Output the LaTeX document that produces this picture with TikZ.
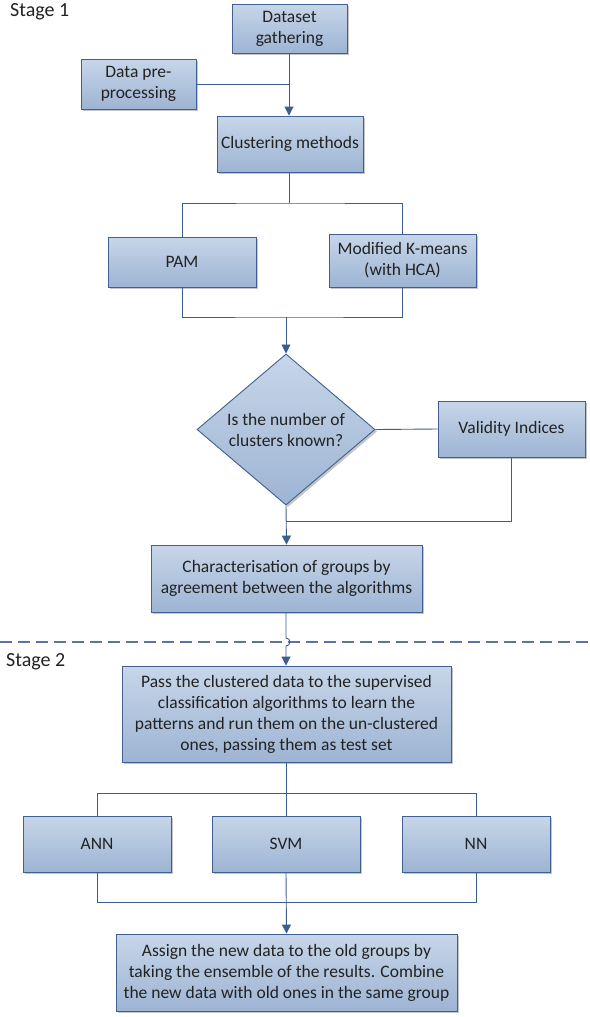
\documentclass[tikz,border=0pt]{standalone}
\usepackage{fontspec}
\setmainfont{Carlito}
\usetikzlibrary{shapes.geometric,arrows.meta,shadows}
\definecolor{boxtop}{HTML}{C7D6E9}
\definecolor{boxbot}{HTML}{9DB4D3}
\definecolor{boxline}{HTML}{3F6090}
\definecolor{conn}{HTML}{3C5E8E}
\definecolor{txt}{HTML}{222222}
\tikzset{
  box/.style={draw=boxline, line width=0.9pt, top color=boxtop, bottom color=boxbot,
    text=txt, align=center, inner sep=2pt,
    drop shadow={shadow xshift=2pt, shadow yshift=-2pt, fill=black!45, opacity=0.5},
    font=\fontsize{17.5}{21}\selectfont},
  decision/.style={box, diamond, inner sep=0pt},
  link/.style={draw=conn, line width=0.9pt},
  arr/.style={link, -{Triangle[width=9pt,length=9pt]}},
  stagelabel/.style={text=txt, anchor=north west, inner sep=0pt, font=\fontsize{20}{22}\selectfont},
  divider/.style={draw=conn!85, line width=1.4pt, dash pattern=on 12pt off 6pt}
}
\begin{document}
\begin{tikzpicture}[x=1pt,y=1pt]
\useasboundingbox (0,0) rectangle (589,-1017);
% stage labels
\node[stagelabel] (s1) at (10,-3) {Stage 1};
\node[stagelabel] (s2) at (6,-653) {Stage 2};
% nodes
\node[box, minimum width=115pt, minimum height=49pt] (ds) at (289.5,-28.5) {Dataset\\gathering};
\node[box, minimum width=115pt, minimum height=50pt] (pre) at (138.5,-84) {Data pre-\\processing};
\node[box, minimum width=146pt, minimum height=56pt] (clu) at (290,-144) {Clustering methods};
\node[box, minimum width=148pt, minimum height=50pt] (pam) at (182,-262) {PAM};
\node[box, minimum width=147pt, minimum height=53pt] (mk) at (402.5,-260.5) {Modified K-means\\(with HCA)};
\node[decision, minimum width=178pt, minimum height=145pt] (dia) at (286,-429.5) {Is the number of\\clusters known?};
\node[box, minimum width=147pt, minimum height=56pt] (vi) at (511.5,-429) {Validity Indices};
\node[box, minimum width=271pt, minimum height=67pt] (char) at (286.5,-578.5) {Characterisation of groups by\\agreement between the algorithms};
\node[box, minimum width=329pt, minimum height=96pt] (pass) at (286.5,-714) {Pass the clustered data to the supervised\\classification algorithms to learn the\\patterns and run them on the un-clustered\\ones, passing them as test set};
\node[box, minimum width=148pt, minimum height=56pt] (ann) at (97,-844) {ANN};
\node[box, minimum width=148pt, minimum height=56pt] (svm) at (286,-844) {SVM};
\node[box, minimum width=148pt, minimum height=56pt] (nn) at (476,-844) {NN};
\node[box, minimum width=341pt, minimum height=77pt] (fin) at (286.5,-972.5) {Assign the new data to the old groups by\\taking the ensemble of the results. Combine\\the new data with old ones in the same group};
% helper coordinates
\coordinate (jc) at (289,-84);
\coordinate (sp1) at (289,-203);
\coordinate (jn1) at (286,-317);
\coordinate (jn2) at (286,-521);
\coordinate (hop) at (286,-638);
\coordinate (sp2) at (286,-793);
\coordinate (jn3) at (286,-902);
\coordinate (dl) at (0,-642);
\coordinate (dr) at (589,-642);
% divider
\draw[divider] (dl) -- (dr);
% connectors
\draw[arr] (ds.south -| jc) -- (clu.north -| jc);
\draw[link] (pre.east) -- (jc);
\draw[link] (clu.south -| sp1) -- (sp1);
\draw[link] (pam.north) |- (sp1) -| (mk.north);
\draw[link] (pam.south) |- (jn1) -| (mk.south);
\draw[arr] (jn1) -- (dia.north);
\draw[link] (dia.east) -- (vi.west);
\draw[link] (vi.south) |- (jn2);
\draw[arr] (dia.south) -- (char.north);
\draw[arr] (char.south -| hop) -- (hop) arc[start angle=90, end angle=-90, radius=4pt] -- (pass.north -| hop);
\draw[link] (pass.south -| sp2) -- (svm.north);
\draw[link] (ann.north) |- (sp2) -| (nn.north);
\draw[link] (ann.south) |- (jn3) -| (nn.south);
\draw[arr] (svm.south) -- (fin.north);
\end{tikzpicture}
\end{document}
